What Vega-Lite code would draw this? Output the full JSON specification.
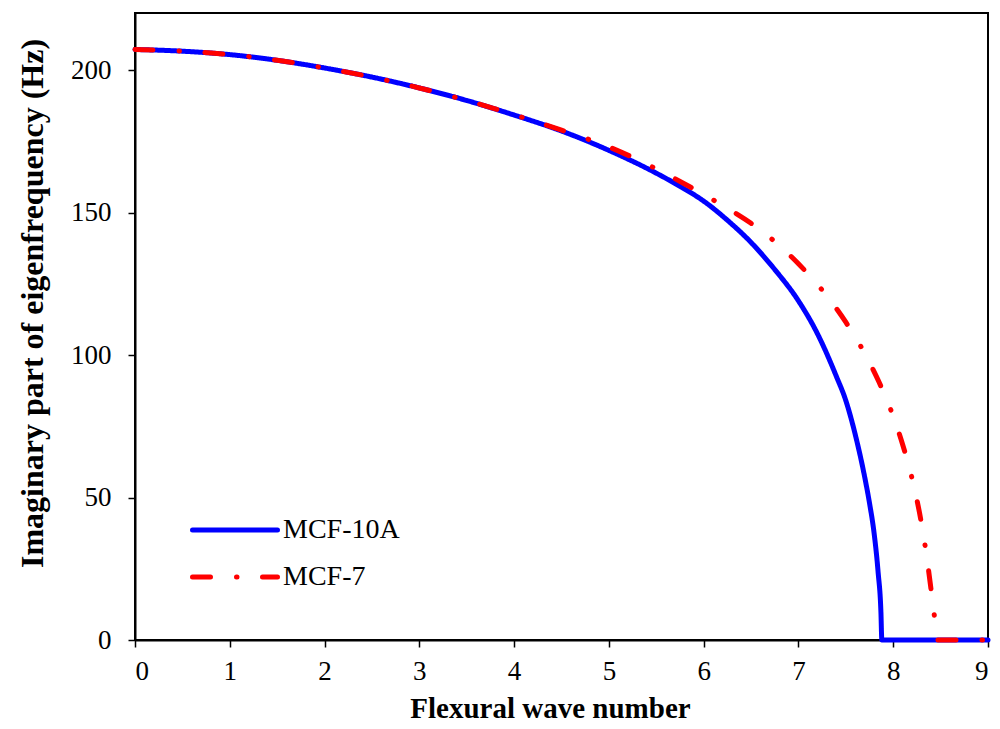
{
  "$schema": "https://vega.github.io/schema/vega-lite/v6.json",
  "width": 853,
  "height": 627,
  "autosize": {"type": "none"},
  "padding": {"left": 135, "top": 13, "right": 12, "bottom": 89},
  "background": "white",
  "config": {
    "font": "Liberation Serif",
    "view": {"stroke": "black", "strokeWidth": 2},
    "axis": {
      "grid": false,
      "domainColor": "black",
      "domainWidth": 2,
      "tickColor": "black",
      "tickWidth": 1.5,
      "tickSize": 7,
      "labelColor": "black",
      "labelFont": "Liberation Serif",
      "labelFontSize": 27,
      "titleColor": "black",
      "titleFont": "Liberation Serif",
      "titleFontWeight": "bold"
    }
  },
  "data": {
    "values": [
      {"series": "MCF-10A", "k": 0, "f": 207.2},
      {"series": "MCF-10A", "k": 0.5, "f": 206.6},
      {"series": "MCF-10A", "k": 1, "f": 205.4},
      {"series": "MCF-10A", "k": 1.5, "f": 203.4},
      {"series": "MCF-10A", "k": 2, "f": 200.7},
      {"series": "MCF-10A", "k": 2.5, "f": 197.5},
      {"series": "MCF-10A", "k": 3, "f": 193.7},
      {"series": "MCF-10A", "k": 3.5, "f": 189.3},
      {"series": "MCF-10A", "k": 4, "f": 184.2},
      {"series": "MCF-10A", "k": 4.5, "f": 178.6},
      {"series": "MCF-10A", "k": 5, "f": 171.8},
      {"series": "MCF-10A", "k": 5.5, "f": 163.8},
      {"series": "MCF-10A", "k": 5.75, "f": 159.2},
      {"series": "MCF-10A", "k": 6, "f": 154.0},
      {"series": "MCF-10A", "k": 6.25, "f": 147.3},
      {"series": "MCF-10A", "k": 6.5, "f": 139.5},
      {"series": "MCF-10A", "k": 6.75, "f": 130.0},
      {"series": "MCF-10A", "k": 7, "f": 119.0},
      {"series": "MCF-10A", "k": 7.2, "f": 107.5},
      {"series": "MCF-10A", "k": 7.4, "f": 92.5},
      {"series": "MCF-10A", "k": 7.5, "f": 84.0},
      {"series": "MCF-10A", "k": 7.6, "f": 72.0},
      {"series": "MCF-10A", "k": 7.7, "f": 57.0},
      {"series": "MCF-10A", "k": 7.75, "f": 48.0},
      {"series": "MCF-10A", "k": 7.8, "f": 37.0},
      {"series": "MCF-10A", "k": 7.84, "f": 24.0},
      {"series": "MCF-10A", "k": 7.87, "f": 10.0},
      {"series": "MCF-10A", "k": 7.88, "f": 0},
      {"series": "MCF-10A", "k": 9, "f": 0},
      {"series": "MCF-7", "k": 0, "f": 207.2},
      {"series": "MCF-7", "k": 0.5, "f": 206.6},
      {"series": "MCF-7", "k": 1, "f": 205.4},
      {"series": "MCF-7", "k": 1.5, "f": 203.4},
      {"series": "MCF-7", "k": 2, "f": 200.7},
      {"series": "MCF-7", "k": 2.5, "f": 197.5},
      {"series": "MCF-7", "k": 3, "f": 193.7},
      {"series": "MCF-7", "k": 3.5, "f": 189.3},
      {"series": "MCF-7", "k": 4, "f": 184.3},
      {"series": "MCF-7", "k": 4.5, "f": 178.9},
      {"series": "MCF-7", "k": 5, "f": 173.0},
      {"series": "MCF-7", "k": 5.5, "f": 165.3},
      {"series": "MCF-7", "k": 5.8, "f": 160.0},
      {"series": "MCF-7", "k": 6, "f": 156.3},
      {"series": "MCF-7", "k": 6.25, "f": 151.5},
      {"series": "MCF-7", "k": 6.5, "f": 146.2},
      {"series": "MCF-7", "k": 6.75, "f": 139.8},
      {"series": "MCF-7", "k": 7, "f": 132.0},
      {"series": "MCF-7", "k": 7.25, "f": 122.8},
      {"series": "MCF-7", "k": 7.5, "f": 111.5},
      {"series": "MCF-7", "k": 7.7, "f": 100.5},
      {"series": "MCF-7", "k": 7.85, "f": 90.5},
      {"series": "MCF-7", "k": 8, "f": 78.5},
      {"series": "MCF-7", "k": 8.1, "f": 68.5},
      {"series": "MCF-7", "k": 8.2, "f": 56.5},
      {"series": "MCF-7", "k": 8.3, "f": 40.5},
      {"series": "MCF-7", "k": 8.35, "f": 30.0},
      {"series": "MCF-7", "k": 8.4, "f": 17.5},
      {"series": "MCF-7", "k": 8.44, "f": 7.0},
      {"series": "MCF-7", "k": 8.47, "f": 0},
      {"series": "MCF-7", "k": 9, "f": 0}
    ]
  },
  "mark": {"type": "line", "strokeWidth": 5, "strokeCap": "round", "strokeJoin": "round", "interpolate": "monotone", "clip": false},
  "encoding": {
    "x": {
      "field": "k", "type": "quantitative",
      "scale": {"domain": [0, 9], "nice": false},
      "axis": {"values": [0,1,2,3,4,5,6,7,8,9], "title": "Flexural wave number", "labelPadding": 11, "titlePadding": 10, "titleFontSize": 29, "titleX": 415}
    },
    "y": {
      "field": "f", "type": "quantitative",
      "scale": {"domain": [0, 220], "nice": false},
      "axis": {"values": [0,50,100,150,200], "title": "Imaginary part of eigenfrequency (Hz)", "labelPadding": 17, "titlePadding": 21, "titleFontSize": 32, "titleY": 290}
    },
    "color": {
      "field": "series", "type": "nominal",
      "scale": {"domain": ["MCF-10A", "MCF-7"], "range": ["#0000ff", "#ff0000"]},
      "legend": {
        "title": null,
        "orient": "none",
        "legendX": 55,
        "legendY": 497,
        "symbolType": "stroke",
        "symbolSize": 7225,
        "symbolStrokeWidth": 5,
        "labelFont": "Liberation Serif",
        "labelFontSize": 28,
        "labelColor": "black",
        "labelOffset": 3,
        "clipHeight": 40,
        "rowPadding": 7,
        "encode": {"symbols": {"update": {"strokeCap": {"value": "round"}}}}
      }
    },
    "strokeDash": {
      "field": "series", "type": "nominal",
      "scale": {"domain": ["MCF-10A", "MCF-7"], "range": [[1, 0], [18, 26, 0.5, 25.5]]},
      "legend": null
    }
  }
}
